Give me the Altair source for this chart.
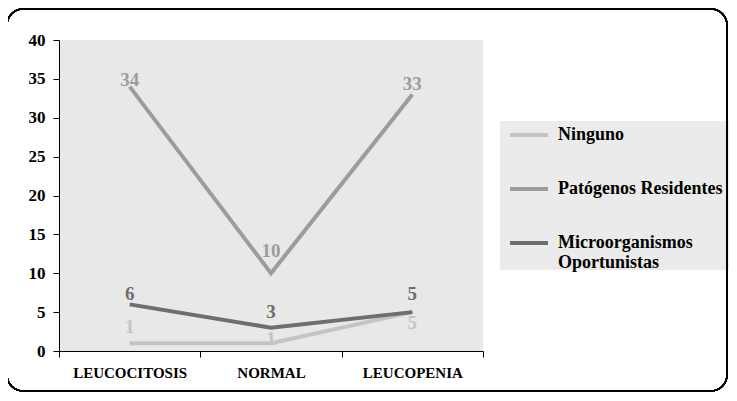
import altair as alt
import pandas as pd

categories = ["LEUCOCITOSIS", "NORMAL", "LEUCOPENIA"]
series_names = ["Ninguno", "Patógenos Residentes", "Microorganismos Oportunistas"]
ninguno = [1, 1, 5]
patogenos = [34, 10, 33]
micro = [6, 3, 5]
colors = ["#c4c4c4", "#9c9c9c", "#6e6e6e"]

# label vertical offsets (pixels) - styling only
label_offsets = {
    "Ninguno": [-10, 2, 17],
    "Patógenos Residentes": [-1, -16, -4],
    "Microorganismos Oportunistas": [-4, -10, -12],
}

rows = []
for name, vals in zip(series_names, [ninguno, patogenos, micro]):
    for i, (c, v) in enumerate(zip(categories, vals)):
        rows.append({"cat": c, "serie": name, "valor": v, "dy": label_offsets[name][i]})
df = pd.DataFrame(rows)

FONT = "Liberation Serif"

x = alt.X("cat:N", sort=categories, title=None,
          scale=alt.Scale(paddingInner=0, paddingOuter=0),
          axis=alt.Axis(labelAngle=0, labelFont=FONT, labelFontSize=15, labelFontWeight="bold",
                        labelColor="black", domainColor="black", tickColor="black",
                        tickBand="extent", tickSize=6, labelPadding=8, domainWidth=1))
y = alt.Y("valor:Q", title=None,
          scale=alt.Scale(domain=[0, 40], nice=False),
          axis=alt.Axis(values=list(range(0, 41, 5)), grid=False, labelFont=FONT, labelFontSize=17,
                        labelFontWeight="bold", labelColor="black", domainColor="black",
                        tickColor="black", tickSize=6, labelPadding=8, domainWidth=1))
cscale = alt.Scale(domain=series_names, range=colors)
color = alt.Color("serie:N", sort=series_names, scale=cscale,
                  legend=alt.Legend(
                      title=None, orient="none", legendX=441, legendY=66,
                      symbolType="stroke", symbolSize=1444, symbolStrokeWidth=4,
                      labelFont=FONT, labelFontSize=18, labelFontWeight="bold", labelColor="black",
                      labelLimit=300, padding=8, rowPadding=24,
                      labelOffset=8,
                      labelExpr="datum.label == 'Microorganismos Oportunistas' ? ['Microorganismos', 'Oportunistas'] : datum.label"))

legend_box = alt.Chart(df).mark_rect(fill="#ebebeb", clip=False).encode(
    x=alt.value(441), x2=alt.value(690), y=alt.value(81), y2=alt.value(230))

lines = alt.Chart(df).mark_line(strokeWidth=4).encode(x=x, y=y, color=color)

label_layers = []
for d in sorted(set(df["dy"])):
    label_layers.append(
        alt.Chart(df).transform_filter(alt.datum.dy == int(d)).mark_text(
            font=FONT, fontSize=19, fontWeight="bold", baseline="alphabetic", dy=int(d)).encode(
            x=x, y=y, text=alt.Text("valor:Q"),
            color=alt.Color("serie:N", scale=cscale, legend=None)))

frame = alt.Chart(df).mark_rect(fill=None, stroke="black", strokeWidth=1.5, cornerRadius=16, clip=False).encode(
    x=alt.value(-52), x2=alt.value(668), y=alt.value(-31), y2=alt.value(351))

chart = alt.layer(legend_box, lines, *label_layers, frame).properties(
    width=424, height=311,
    padding={"left": 51, "top": 32, "right": 246, "bottom": 42},
    autosize=alt.AutoSizeParams(type="none"),
    background="white",
).configure_view(fill="#e8e8e8", stroke=None)

chart.save("out.html", embed_options={"renderer": "svg", "actions": False})
